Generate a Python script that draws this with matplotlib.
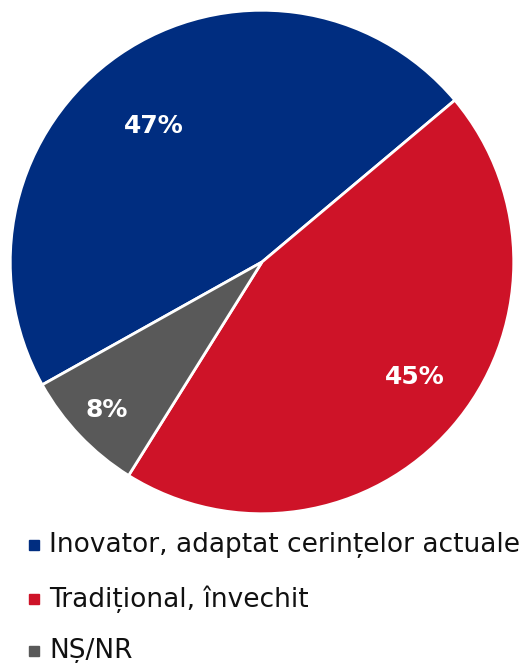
import numpy as np
import matplotlib.pyplot as plt

labels = ['Inovator, adaptat cerințelor actuale', 'Tradițional, învechit', 'NȘ/NR']
values = [47, 45, 8]
colors = ['#002D80', '#CE1328', '#595959']

plt.rcParams['font.family'] = ['DejaVu Sans']

fig = plt.figure(figsize=(5.24, 6.63), dpi=100)
ax = fig.add_axes([9 / 524, (663 - 515) / 663, 506 / 524, 506 / 663])

wedges, _ = ax.pie(values, colors=colors, startangle=209.2, counterclock=False,
                   wedgeprops=dict(edgecolor='white', linewidth=2))
ax.set_xlim(-1.005, 1.005)
ax.set_ylim(-1.005, 1.005)
ax.set_aspect('equal')

# label radii chosen per slice to match the reference placement
radii = [0.69, 0.76, 0.85]
offsets = [4, 4, 0]
for w, v, r, o in zip(wedges, values, radii, offsets):
    ang = np.deg2rad((w.theta1 + w.theta2) / 2 + o)
    ax.text(r * np.cos(ang), r * np.sin(ang), f'{v}%', color='white',
            fontsize=18, fontweight='bold', ha='center', va='center')

ys = [545, 599, 651]
for lab, c, y in zip(labels, colors, ys):
    fy = 1 - y / 663
    fig.patches.append(plt.Rectangle((29 / 524, fy - 5 / 663), 10 / 524, 10 / 663,
                                     transform=fig.transFigure, color=c))
    fig.text(49 / 524, fy, lab, fontsize=19, va='center', ha='left', color='#111111')

fig.savefig('out.png', dpi=100)
